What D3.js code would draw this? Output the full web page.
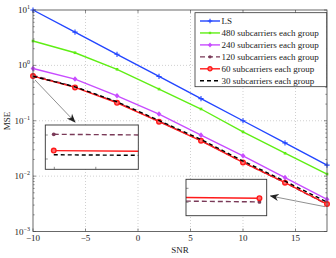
<!DOCTYPE html>
<html>
<head>
<meta charset="utf-8">
<script src="https://cdn.jsdelivr.net/npm/d3@7"></script>
<style>
  body { margin: 0; background: #fff; }
  svg { display: block; font-family: "Liberation Serif", "DejaVu Serif", serif; }
</style>
</head>
<body>
<div id="chart"></div>
<script>
const width = 336;
const height = 258;

const snr = [-10, -6, -2, 2, 6, 10, 14, 18];
const seriesNames = [
  "LS",
  "480 subcarriers each group",
  "240 subcarriers each group",
  "120 subcarriers each group",
  "60 subcarriers each group",
  "30 subcarriers each group"
];
const mseLS = [10, 3.98, 1.585, 0.631, 0.251, 0.1, 0.0398, 0.0158];
const mse480 = [2.75, 1.69, 0.85, 0.373, 0.163, 0.063, 0.0259, 0.0109];
const mse240 = [0.88, 0.566, 0.282, 0.132, 0.055, 0.0233, 0.0094, 0.0038];
const mse120 = [0.66, 0.41, 0.215, 0.098, 0.044, 0.0178, 0.0076, 0.0031];
const mse60 = [0.64, 0.40, 0.211, 0.096, 0.0435, 0.0177, 0.0076, 0.00313];
const mse30 = [0.635, 0.41, 0.22, 0.101, 0.046, 0.0187, 0.0081, 0.0034];
const xTicks = [-10, -5, 0, 5, 10, 15];
const yExponents = [-3, -2, -1, 0, 1];

const styles = [
  { color: "#2346ff", dash: null, marker: "plus" },
  { color: "#5fee14", dash: null, marker: "square" },
  { color: "#c84cff", dash: null, marker: "diamond" },
  { color: "#7a3a58", dash: "5,3", marker: "dot" },
  { color: "#ff1a1a", dash: null, marker: "circle" },
  { color: "#000000", dash: "4,3", marker: null }
];
const values = [mseLS, mse480, mse240, mse120, mse60, mse30];
const series = seriesNames.map((name, i) => ({
  name, ...styles[i],
  points: snr.map((s, j) => ({ x: s, y: values[i][j] }))
}));

const plot = { left: 33, right: 327, top: 10, bottom: 231.5 };

const x = d3.scaleLinear().domain([-10, 18]).range([plot.left, plot.right]);
const y = d3.scaleLog().domain([1e-3, 10]).range([plot.bottom, plot.top]);

const svg = d3.select("#chart").append("svg")
  .attr("width", width)
  .attr("height", height);

const defs = svg.append("defs");
defs.append("marker")
  .attr("id", "arrow")
  .attr("viewBox", "0 0 10 10")
  .attr("refX", 9).attr("refY", 5)
  .attr("markerWidth", 9).attr("markerHeight", 9)
  .attr("markerUnits", "userSpaceOnUse")
  .attr("orient", "auto")
  .append("path")
  .attr("d", "M0,1L10,5L0,9L3,5Z")
  .attr("fill", "#222");

// grid
const grid = svg.append("g")
  .attr("stroke", "#bbb")
  .attr("stroke-width", 0.7)
  .attr("stroke-dasharray", "1,2");
grid.selectAll("line.gx")
  .data(xTicks.slice(1))
  .join("line")
  .attr("x1", d => x(d)).attr("x2", d => x(d))
  .attr("y1", plot.top).attr("y2", plot.bottom);
grid.selectAll("line.gy")
  .data(yExponents.slice(1, -1))
  .join("line")
  .attr("y1", d => y(Math.pow(10, d))).attr("y2", d => y(Math.pow(10, d)))
  .attr("x1", plot.left).attr("x2", plot.right);

// ticks
const ticks = svg.append("g").attr("stroke", "#444").attr("stroke-width", 0.6);
xTicks.forEach(t => {
  ticks.append("line").attr("x1", x(t)).attr("x2", x(t)).attr("y1", plot.bottom).attr("y2", plot.bottom - 3);
  ticks.append("line").attr("x1", x(t)).attr("x2", x(t)).attr("y1", plot.top).attr("y2", plot.top + 3);
});
yExponents.forEach(e => {
  const v = Math.pow(10, e);
  ticks.append("line").attr("x1", plot.left).attr("x2", plot.left + 3).attr("y1", y(v)).attr("y2", y(v));
  ticks.append("line").attr("x1", plot.right).attr("x2", plot.right - 3).attr("y1", y(v)).attr("y2", y(v));
  if (e < 1) {
    for (let k = 2; k < 10; k++) {
      const m = v * k;
      ticks.append("line").attr("x1", plot.left).attr("x2", plot.left + 1.6).attr("y1", y(m)).attr("y2", y(m));
      ticks.append("line").attr("x1", plot.right).attr("x2", plot.right - 1.6).attr("y1", y(m)).attr("y2", y(m));
    }
  }
});

// tick labels
svg.append("g")
  .selectAll("text")
  .data(xTicks)
  .join("text")
  .attr("x", d => x(d))
  .attr("y", 241)
  .attr("text-anchor", "middle")
  .attr("font-size", 9)
  .attr("fill", "#222")
  .text(d => d < 0 ? "\u2212" + Math.abs(d) : d);

const yl = svg.append("g")
  .selectAll("text")
  .data(yExponents)
  .join("text")
  .attr("x", 30)
  .attr("y", d => y(Math.pow(10, d)) + 3)
  .attr("text-anchor", "end")
  .attr("font-size", 9)
  .attr("fill", "#222");
yl.append("tspan").text("10");
yl.append("tspan")
  .attr("dy", -4)
  .attr("font-size", 6)
  .text(d => d < 0 ? "\u2212" + Math.abs(d) : d);

svg.append("text")
  .attr("x", 180).attr("y", 253)
  .attr("text-anchor", "middle")
  .attr("font-size", 9)
  .attr("fill", "#222")
  .text("SNR");
svg.append("text")
  .attr("transform", "translate(10,121) rotate(-90)")
  .attr("text-anchor", "middle")
  .attr("font-size", 9)
  .attr("fill", "#222")
  .text("MSE");

// marker drawing
function drawMarker(sel, s, size) {
  const k = size || 1;
  if (s.marker === "plus") {
    sel.append("path")
      .attr("d", `M${-2.6 * k},0H${2.6 * k}M0,${-2.6 * k}V${2.6 * k}`)
      .attr("stroke", s.color).attr("stroke-width", 1.1).attr("fill", "none");
  } else if (s.marker === "square") {
    sel.append("rect")
      .attr("x", -1.3 * k).attr("y", -1.3 * k)
      .attr("width", 2.6 * k).attr("height", 2.6 * k)
      .attr("fill", s.color);
  } else if (s.marker === "diamond") {
    sel.append("path")
      .attr("d", `M0,${-2.8 * k}L${2.4 * k},0L0,${2.8 * k}L${-2.4 * k},0Z`)
      .attr("fill", s.color);
  } else if (s.marker === "dot") {
    sel.append("circle").attr("r", 1.9 * k).attr("fill", s.color);
  } else if (s.marker === "circle") {
    sel.append("circle").attr("r", 2.3 * k)
      .attr("fill", "#ff7070").attr("stroke", s.color).attr("stroke-width", 1.4);
  }
}

function drawSeries(g, sx, sy, withMarkers) {
  const line = d3.line().x(d => sx(d.x)).y(d => sy(d.y));
  series.forEach(s => {
    g.append("path")
      .datum(s.points)
      .attr("d", line)
      .attr("fill", "none")
      .attr("stroke", s.color)
      .attr("stroke-width", 1.4)
      .attr("stroke-dasharray", s.dash);
    if (withMarkers && s.marker) {
      g.selectAll(null)
        .data(s.points)
        .join("g")
        .attr("transform", d => `translate(${sx(d.x)},${sy(d.y)})`)
        .each(function() { drawMarker(d3.select(this), s); });
    }
  });
}

drawSeries(svg.append("g"), x, y, true);

// arrows
svg.append("line")
  .attr("x1", 35).attr("y1", 80).attr("x2", 75).attr("y2", 122)
  .attr("stroke", "#444").attr("stroke-width", 0.6)
  .attr("marker-end", "url(#arrow)");
svg.append("line")
  .attr("x1", 325).attr("y1", 206.7).attr("x2", 270.5).attr("y2", 196)
  .attr("stroke", "#444").attr("stroke-width", 0.6)
  .attr("marker-end", "url(#arrow)");

// insets
function drawInset(id, box, xDomain, yDomain, xTickVals, yTickVals) {
  const ix = d3.scaleLinear().domain(xDomain).range([box.x0, box.x1]);
  const iy = d3.scaleLog().domain(yDomain).range([box.y1, box.y0]);
  defs.append("clipPath").attr("id", id)
    .append("rect")
    .attr("x", box.x0).attr("y", box.y0)
    .attr("width", box.x1 - box.x0).attr("height", box.y1 - box.y0);
  svg.append("rect")
    .attr("x", box.x0).attr("y", box.y0)
    .attr("width", box.x1 - box.x0).attr("height", box.y1 - box.y0)
    .attr("fill", "#fff");
  const g = svg.append("g").attr("clip-path", `url(#${id})`);
  drawSeries(g, ix, iy, true);
  const t = svg.append("g").attr("stroke", "#444").attr("stroke-width", 0.6);
  xTickVals.forEach(v => {
    t.append("line").attr("x1", box.x0 + v).attr("x2", box.x0 + v).attr("y1", box.y1).attr("y2", box.y1 - 2.5);
  });
  yTickVals.forEach(v => {
    t.append("line").attr("x1", box.x0).attr("x2", box.x0 + 2.5).attr("y1", box.y0 + v).attr("y2", box.y0 + v);
  });
  svg.append("rect")
    .attr("x", box.x0).attr("y", box.y0)
    .attr("width", box.x1 - box.x0).attr("height", box.y1 - box.y0)
    .attr("fill", "none").attr("stroke", "#333").attr("stroke-width", 0.9);
}

drawInset("clipL", { x0: 45.3, x1: 138.3, y0: 125, y1: 169.3 },
  [-10.001, -9.99], [0.6178, 0.6717], [9, 50.5], [10, 34]);
drawInset("clipR", { x0: 186, x1: 266.7, y0: 179.3, y1: 215.7 },
  [17.9909, 18.0009], [0.00299, 0.003289], [], [9, 23]);

// axes box
svg.append("rect")
  .attr("x", plot.left).attr("y", plot.top)
  .attr("width", plot.right - plot.left).attr("height", plot.bottom - plot.top)
  .attr("fill", "none").attr("stroke", "#444").attr("stroke-width", 0.8);

// legend
const legend = svg.append("g");
legend.append("rect")
  .attr("x", 195).attr("y", 12.7)
  .attr("width", 131.7).attr("height", 74)
  .attr("fill", "#fff").attr("stroke", "#333").attr("stroke-width", 0.8);
series.forEach((s, i) => {
  const ly = 21 + i * 11.95;
  const row = legend.append("g");
  row.append("line")
    .attr("x1", 200).attr("x2", 220).attr("y1", ly).attr("y2", ly)
    .attr("stroke", s.color).attr("stroke-width", 1.4)
    .attr("stroke-dasharray", s.dash);
  if (s.marker) {
    drawMarker(row.append("g").attr("transform", `translate(210,${ly})`), s, 0.9);
  }
  row.append("text")
    .attr("x", 221.5).attr("y", ly + 3)
    .attr("font-size", 9)
    .attr("fill", "#222")
    .text(s.name);
});
</script>
</body>
</html>
